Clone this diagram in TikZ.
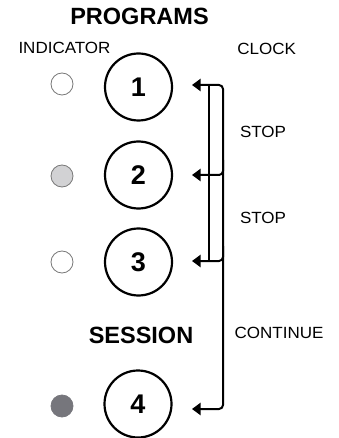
\documentclass[tikz,border=0pt]{standalone}
\usepackage{fontspec}
\setmainfont{Liberation Sans}
\newfontfamily\widelbl[FakeStretch=1.05]{Liberation Sans}
\usetikzlibrary{arrows.meta}
\definecolor{indline}{RGB}{120,120,120}
\definecolor{indlight}{RGB}{210,210,212}
\definecolor{inddark}{RGB}{118,118,124}
\begin{document}
\begin{tikzpicture}[x=1pt,y=-1pt,
  lbl/.style={font=\widelbl\fontsize{16.2}{18}\selectfont, inner sep=0pt},
  ttl/.style={font=\fontsize{23.5}{26}\selectfont\bfseries, inner sep=0pt},
  prog/.style={circle, draw, line width=2.2pt, minimum size=67pt, inner sep=0pt, font=\fontsize{27}{29}\selectfont\bfseries},
  ind/.style={circle, draw=indline, line width=0.8pt, minimum size=22pt, inner sep=0pt},
  conn/.style={line width=2pt, rounded corners=4pt},
  tipend/.style={-{Triangle[length=8.5pt,width=12pt]}},
  tipboth/.style={{Triangle[length=8.5pt,width=12pt]}-{Triangle[length=8.5pt,width=12pt]}}
]
\useasboundingbox (0,0) rectangle (338,438);

% titles and labels
\node[ttl] (tprog) at (139.5,16.7) {PROGRAMS};
\node[ttl] (tsess) at (141,335.5) {SESSION};
\node[lbl] (lind) at (64.5,48.3) {INDICATOR};
\node[lbl] (lclock) at (266.7,49) {CLOCK};
\node[lbl] (lstop1) at (263,132) {STOP};
\node[lbl] (lstop2) at (263,218) {STOP};
\node[lbl] (lcont) at (279,333) {CONTINUE};

% program buttons
\node[prog] (p1) at (138.5,87) {1};
\node[prog] (p2) at (138.5,175) {2};
\node[prog] (p3) at (138.5,262) {3};
\node[prog] (p4) at (138,404) {4};

% indicators
\node[ind, fill=white] (d1) at (62,84) {};
\node[ind, fill=indlight] (d2) at (62,176) {};
\node[ind, fill=white] (d3) at (62,262) {};
\node[ind, fill=inddark, draw=inddark] (d4) at (62,406) {};

% connector points
\coordinate (t1) at (192,85);
\coordinate (t2) at (192,175);
\coordinate (t3) at (192,261);
\coordinate (t4) at (192,409);
\coordinate (c4) at (223,409);
\coordinate (b2) at (223,160);
\coordinate (b3) at (223,246);
\coordinate (i1) at (209,85);
\coordinate (i3) at (209,261);

% connectors
\draw[conn, tipboth] (t1) -| (c4) -- (t4);
\draw[conn, tipend] (b2) |- (t2);
\draw[conn, tipend] (b3) |- (t3);
\draw[line width=2pt] (i1) -- (i3);
\end{tikzpicture}
\end{document}
